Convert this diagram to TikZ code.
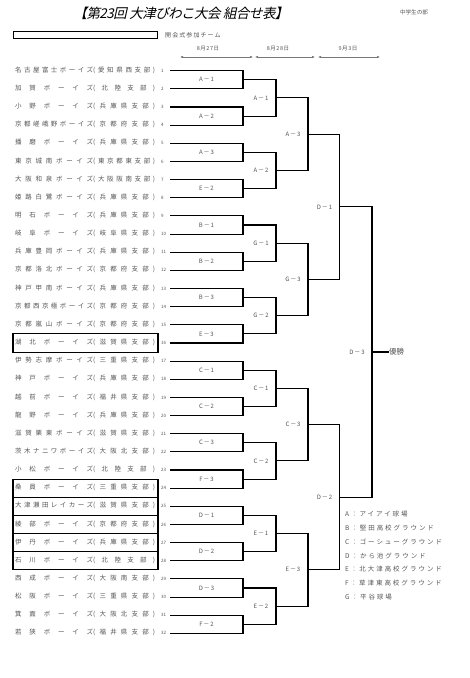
\documentclass[tikz,border=0pt]{standalone}
\usepackage{fontspec}
\setmainfont{Noto Sans CJK JP}
\newfontfamily\titlefont[FakeSlant=0.22]{Noto Sans CJK JP}
\usetikzlibrary{arrows.meta,positioning,calc}
\definecolor{cText}{RGB}{85,85,85}
\definecolor{cArrow}{RGB}{120,120,120}
% spread the characters of a text over a fixed width
\def\spreadfirst#1{#1\spreadrest}
\def\spreadrest#1{\ifx\relax#1\else\hfill#1\expandafter\spreadrest\fi}
\newcommand\spreadtext[2]{\hbox to #1{\expandafter\spreadfirst#2\relax}}
\tikzset{
  teamname/.style={anchor=west,inner sep=0pt,text=cText,
                   font=\fontsize{6.5pt}{7pt}\selectfont},
  teamno/.style={anchor=west,inner sep=0pt,text=cText,
                 font=\fontsize{4.5pt}{5pt}\selectfont},
  matchlbl/.style={inner sep=0pt,text=cText,
                   font=\fontsize{6pt}{7pt}\selectfont\addfontfeature{LetterSpace=15}},
  datelbl/.style={inner sep=0pt,text=cText,
                  font=\fontsize{5.5pt}{6pt}\selectfont\addfontfeature{LetterSpace=10}},
  legendtxt/.style={anchor=west,inner sep=0pt,text=cText,
                    font=\fontsize{6.5pt}{7pt}\selectfont\addfontfeature{LetterSpace=30}},
  bracket/.style={line width=1.1pt,draw=black},
  entrybox/.style={draw=black,line width=1.1pt},
  datearr/.style={{Latex[length=3pt,width=2.6pt]}-{Latex[length=3pt,width=2.6pt]},
                  draw=cArrow,line width=0.6pt}
}
\begin{document}
\begin{tikzpicture}[x=1pt,y=-1pt]
  \useasboundingbox (0,0) rectangle (470,678);

  % heading
  \node[font=\titlefont\fontsize{13.5pt}{14pt}\selectfont\addfontfeature{LetterSpace=-4}]
      (title) at (181,13) {【第23回 大津びわこ大会 組合せ表】};
  \node[font=\fontsize{5.6pt}{6pt}\selectfont,text=cText] (division) at (414,12) {中学生の部};
  \node[draw=black,line width=1.4pt,minimum width=144pt,minimum height=7.5pt,
        inner sep=0pt,anchor=west] (openbox) at (13,35) {};
  \node[anchor=west,inner sep=0pt,text=cText,
        font=\fontsize{6pt}{7pt}\selectfont\addfontfeature{LetterSpace=18}] (opentxt)
      at (165,35) {開会式参加チーム};

  % days
  \node[datelbl] (d1) at (208,49) {8月27日};
  \node[datelbl] (d2) at (278,49) {8月28日};
  \node[datelbl] (d3) at (348,49) {9月3日};
  \coordinate (a1l) at (180,57); \coordinate (a1r) at (253,57);
  \coordinate (a2l) at (255,57); \coordinate (a2r) at (315,57);
  \coordinate (a3l) at (318,57); \coordinate (a3r) at (380,57);
  \foreach \n in {1,2,3}
    \draw[datearr] (a\n l) -- (a\n r);

  % teams
  \foreach \nm/\br [count=\i] in {名古屋富士ボーイズ/愛知県西支部,加賀ボーイズ/北陸支部,
      小野ボーイズ/兵庫県支部,京都嵯峨野ボーイズ/京都府支部,播磨ボーイズ/兵庫県支部,
      東京城南ボーイズ/東京都東支部,大阪和泉ボーイズ/大阪阪南支部,姫路白鷺ボーイズ/兵庫県支部,
      明石ボーイズ/兵庫県支部,岐阜ボーイズ/岐阜県支部,兵庫豊岡ボーイズ/兵庫県支部,
      京都洛北ボーイズ/京都府支部,神戸甲南ボーイズ/兵庫県支部,京都西京極ボーイズ/京都府支部,
      京都嵐山ボーイズ/京都府支部,湖北ボーイズ/滋賀県支部,伊勢志摩ボーイズ/三重県支部,
      神戸ボーイズ/兵庫県支部,越前ボーイズ/福井県支部,龍野ボーイズ/兵庫県支部,
      滋賀栗東ボーイズ/滋賀県支部,茨木ナニワボーイズ/大阪北支部,小松ボーイズ/北陸支部,
      桑員ボーイズ/三重県支部,大津瀬田レイカーズ/滋賀県支部,綾部ボーイズ/京都府支部,
      伊丹ボーイズ/兵庫県支部,石川ボーイズ/北陸支部,西成ボーイズ/大阪南支部,
      松阪ボーイズ/三重県支部,箕面ボーイズ/大阪北支部,若狭ボーイズ/福井県支部} {
    \pgfmathsetmacro\yy{70.7+(\i-1)*18.15}
    \edef\brtext{(\br)}
    \node[teamname] (name\i) at (15,\yy-0.5)
        {\spreadtext{78pt}{\nm}\spreadtext{62pt}{\brtext}};
    \node[teamno] (no\i) at (161,\yy) {\i};
    \coordinate (t\i) at (170,\yy);
  }
  \foreach \i in {16,24,25,26,27,28}
    \draw[entrybox] ($(t\i)+(-157,-9.1)$) rectangle ($(t\i)+(-12,9.1)$);

  % round 1
  \foreach \k/\lbl in {1/A－1,2/A－2,3/A－3,4/E－2,5/B－1,6/B－2,7/B－3,8/E－3,
                       9/C－1,10/C－2,11/C－3,12/F－3,13/D－1,14/D－2,15/D－3,16/F－2} {
    \pgfmathtruncatemacro\a{2*\k-1}
    \pgfmathtruncatemacro\b{2*\k}
    \coordinate (m1-\k) at ($(t\a)!0.5!(t\b)+(73,0)$);
    \draw[bracket] (t\a) -| (m1-\k) |- (t\b);
    \node[matchlbl] (l1-\k) at ($(t\a)!0.5!(t\b)+(36.5,0)$) {\lbl};
  }
  % round 2
  \foreach \k/\lbl in {1/A－1,2/A－2,3/G－1,4/G－2,5/C－1,6/C－2,7/E－1,8/E－2} {
    \pgfmathtruncatemacro\a{2*\k-1}
    \pgfmathtruncatemacro\b{2*\k}
    \coordinate (m2-\k) at ($(m1-\a)!0.5!(m1-\b)+(33,0)$);
    \draw[bracket] (m1-\a) -| (m2-\k) |- (m1-\b);
    \node[matchlbl] (l2-\k) at ($(m2-\k)+(-15,0)$) {\lbl};
  }
  % round 3
  \foreach \k/\lbl in {1/A－3,2/G－3,3/C－3,4/E－3} {
    \pgfmathtruncatemacro\a{2*\k-1}
    \pgfmathtruncatemacro\b{2*\k}
    \coordinate (m3-\k) at ($(m2-\a)!0.5!(m2-\b)+(32,0)$);
    \draw[bracket] (m2-\a) -| (m3-\k) |- (m2-\b);
    \node[matchlbl] (l3-\k) at ($(m3-\k)+(-15,0)$) {\lbl};
  }
  % semi-finals and final
  \foreach \k/\lbl in {1/D－1,2/D－2} {
    \pgfmathtruncatemacro\a{2*\k-1}
    \pgfmathtruncatemacro\b{2*\k}
    \coordinate (m4-\k) at ($(m3-\a)!0.5!(m3-\b)+(31.5,0)$);
    \draw[bracket] (m3-\a) -| (m4-\k) |- (m3-\b);
    \node[matchlbl] (l4-\k) at ($(m4-\k)+(-15,0)$) {\lbl};
  }
  \coordinate (m5) at ($(m4-1)!0.5!(m4-2)+(32.5,0)$);
  \draw[bracket] (m4-1) -| (m5) |- (m4-2);
  \node[matchlbl] (l5) at ($(m5)+(-15,0)$) {D－3};
  \node[anchor=west,inner sep=0pt,text=cText,font=\fontsize{7.5pt}{8pt}\selectfont]
      (winner) at ($(m5)+(17,0)$) {優勝};
  \draw[bracket] (m5) -- (winner.west);

  % grounds
  \foreach \txt [count=\j] in {A：アイアイ球場,B：堅田高校グラウンド,C：ゴーシューグラウンド,
      D：から池グラウンド,E：北大津高校グラウンド,F：草津東高校グラウンド,G：平谷球場}
    \node[legendtxt] (key\j) at (345,500+\j*13.9) {\txt};
\end{tikzpicture}
\end{document}
